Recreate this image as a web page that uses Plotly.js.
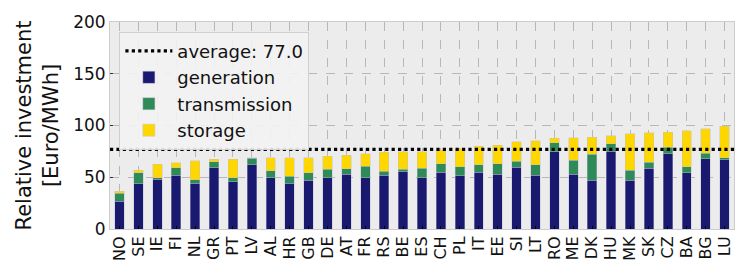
<!DOCTYPE html>
<html><head><meta charset="utf-8">
<script src="https://cdn.plot.ly/plotly-3.0.1.min.js"></script>
<style>html,body{margin:0;padding:0;background:#fff}#chart{width:747px;height:278px}</style>
</head><body><div id="chart"></div>
<script>
const countries = ["NO","SE","IE","FI","NL","GR","PT","LV","AL","HR","GB","DE","AT","FR","RS","BE","ES","CH","PL","IT","EE","SI","LT","RO","ME","DK","HU","MK","SK","CZ","BA","BG","LU"];
const generation   = [27,43.5,48,52,44,59,45.5,62,49.5,44,47,49.5,53,49.5,52,55.5,49.5,55,51.5,55,53,59.5,52,74.5,53,47,75,47,58.5,72.5,54.5,68,67];
const transmission = [7.5,11,1.5,7,3.5,6,4,6.5,7,7,7.5,8,5,11,4,2,9,8,8.5,7,10,6,10,9,13.5,25,7.5,10,6,6.5,5.5,5,2];
const storage      = [2,2.5,13,5,18.5,2.5,18,0.3,12.5,18,14.5,13,13.5,12,18,17,16,13,17.5,18,18,19,23.5,4,21.5,16.5,7.5,35,28.5,14.5,35,24,30.5];
const average = 77.0;
const yTicks = [0,50,100,150,200];

const font = "DejaVu Sans, sans-serif";
function barTrace(name, vals, color){
  return {type:'bar', name:name, x:countries, y:vals, width:0.5, legendgroup:name,
    marker:{color:color, line:{color:'rgba(190,190,215,0.7)', width:0.6}}};
}
const traces = [
  {type:'scatter', mode:'lines', name:'average: ' + average.toFixed(1), legendgroup:'avg',
   x:[0,1], y:[average,average], xaxis:'x2',
   line:{color:'black', width:3.2, dash:'dot'}},
  barTrace('generation', generation, '#191970'),
  barTrace('transmission', transmission, '#2e8b57'),
  barTrace('storage', storage, '#ffd700')
];
const layout = {
  width:747, height:278,
  margin:{l:110, r:13, t:22, b:49},
  paper_bgcolor:'#ffffff', plot_bgcolor:'#ececec',
  barmode:'stack', showlegend:true,
  font:{family:font, color:'#111', size:17},
  xaxis:{type:'category', tickangle:-90, tickfont:{size:16, family:font},
    tickmode:'array', tickvals:countries, ticktext:countries,
    showgrid:true, gridcolor:'#b8b8b8', griddash:'dash', gridwidth:1,
    ticks:'inside', ticklen:3, tickcolor:'#000',
    showline:true, linecolor:'#cccccc', mirror:true, zeroline:false, automargin:false},
  xaxis2:{overlaying:'x', range:[0,1], visible:false},
  yaxis:{range:[0,200], tickvals:yTicks, tickfont:{size:17, family:font},
    showgrid:true, gridcolor:'#b8b8b8', griddash:'dash', gridwidth:1,
    ticks:'inside', ticklen:3, tickcolor:'#333',
    showline:true, linecolor:'#cccccc', mirror:true, zeroline:false,
    title:{text:'Relative investment<br>[Euro/MWh]', font:{size:21, family:font}, standoff:8}, automargin:false},
  legend:{x:0.015, y:0.953, xanchor:'left', yanchor:'top', traceorder:'normal',
    bgcolor:'rgba(243,243,243,0.9)', bordercolor:'#d0d0d0', borderwidth:1,
    font:{size:18, family:font}, itemwidth:47, tracegroupgap:3}
};
Plotly.newPlot('chart', traces, layout, {staticPlot:true, displayModeBar:false});
</script></body></html>
